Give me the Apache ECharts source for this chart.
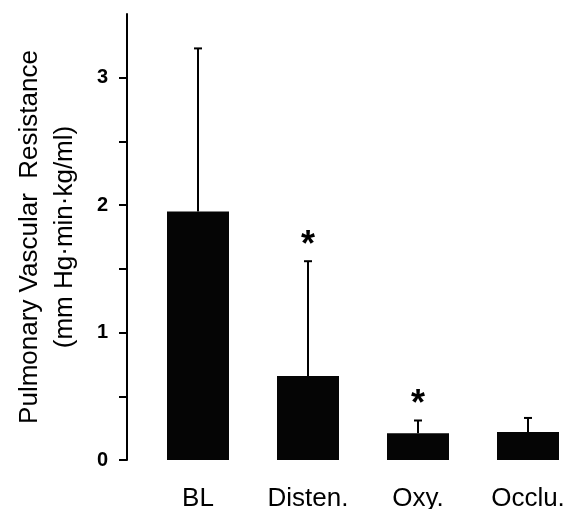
<!DOCTYPE html>
<html>
<head>
<meta charset="utf-8">
<script src="https://cdn.jsdelivr.net/npm/echarts@6/dist/echarts.min.js"></script>
<style>
  html, body { margin: 0; padding: 0; background: #fff; }
  #chart { width: 567px; height: 509px; }
</style>
</head>
<body>
<div id="chart"></div>
<script>
// values
var categories = ['BL', 'Disten.', 'Oxy.', 'Occlu.']
var means = [1.95, 0.66, 0.21, 0.22]
var sd = [1.28, 0.90, 0.10, 0.11]
var significant = [false, true, true, false]
var yTicks = [0, 0.5, 1, 1.5, 2, 2.5, 3]
var yLabels = [0, 1, 2, 3]

var font = "'Liberation Sans', Arial, sans-serif"
var chart = echarts.init(document.getElementById('chart'))

var option = {
  animation: false,
  grid: { left: 143, top: 14, width: 440, bottom: 49, containLabel: false, outerBoundsMode: 'none' },
  xAxis: {
    type: 'category',
    data: categories,
    axisLine: { show: false },
    axisTick: { show: false },
    axisLabel: {
      interval: 0,
      margin: 26,
      color: '#000',
      fontSize: 26,
      fontFamily: font
    }
  },
  yAxis: {
    type: 'value',
    min: 0,
    max: 3.5,
    offset: 16,
    name: 'Pulmonary Vascular  Resistance\n(mm Hg\u00b7min\u00b7kg/ml)',
    nameLocation: 'middle',
    nameGap: 45,
    nameMoveOverlap: false,
    nameRotate: 90,
    nameTextStyle: {
      color: '#000',
      fontSize: 26,
      fontFamily: font,
      lineHeight: 35
    },
    splitLine: { show: false },
    axisLine: { show: true, lineStyle: { color: '#000', width: 2 } },
    axisTick: {
      show: true,
      length: 8,
      customValues: yTicks,
      lineStyle: { color: '#000', width: 2 }
    },
    axisLabel: {
      margin: 19,
      customValues: yLabels,
      color: '#000',
      fontSize: 20,
      fontWeight: 'bold',
      fontFamily: font
    }
  },
  series: [
    {
      type: 'bar',
      data: means,
      barWidth: 62,
      itemStyle: { color: '#050505' }
    },
    {
      // error bars (upper only) with significance stars
      type: 'custom',
      data: means.map(function (m, i) { return [i, m, m + sd[i]] }),
      renderItem: function (params, api) {
        var i = api.value(0)
        var base = api.coord([i, api.value(1)])
        var top = api.coord([i, api.value(2)])
        var children = [
          {
            type: 'line',
            shape: { x1: base[0], y1: base[1], x2: top[0], y2: top[1] },
            style: { stroke: '#000', lineWidth: 2 }
          },
          {
            type: 'line',
            shape: { x1: top[0] - 4, y1: top[1], x2: top[0] + 4, y2: top[1] },
            style: { stroke: '#000', lineWidth: 2 }
          }
        ]
        if (significant[i]) {
          children.push({
            type: 'text',
            x: top[0],
            y: top[1] - 15,
            style: {
              text: '*',
              fill: '#000',
              font: 'bold 36px ' + font,
              align: 'center',
              verticalAlign: 'middle'
            }
          })
        }
        return { type: 'group', children: children }
      },
      z: 3
    }
  ]
}
chart.setOption(option)
</script>
</body>
</html>
